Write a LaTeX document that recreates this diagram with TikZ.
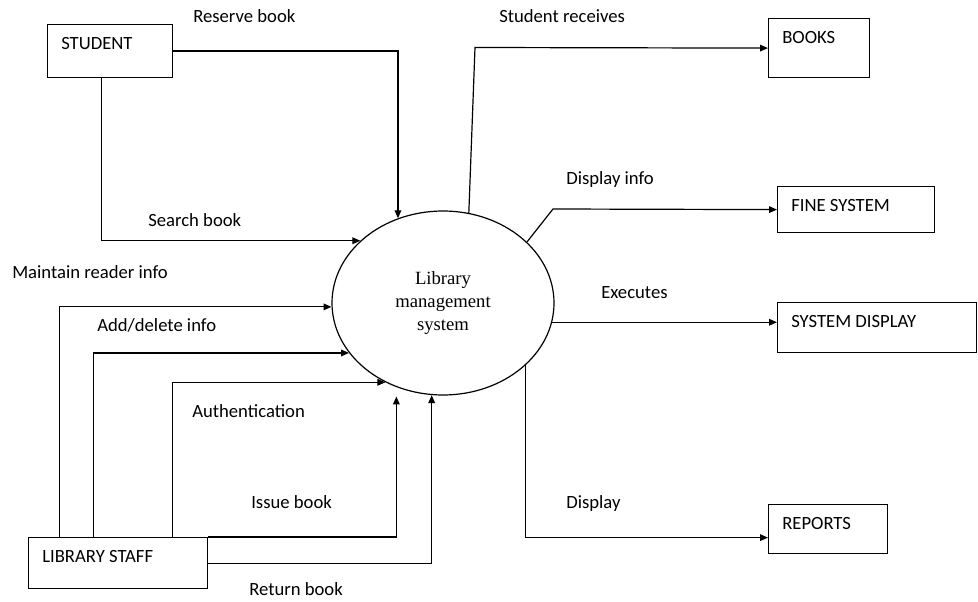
\documentclass[tikz,border=0pt]{standalone}
\usepackage{fontspec}
\setmainfont{Carlito}
\newfontfamily\serifface{Liberation Serif}
\usetikzlibrary{arrows.meta,shapes.geometric}
\begin{document}
\begin{tikzpicture}[x=0.75pt, y=-0.75pt, font=\fontsize{14}{17}\selectfont,
    entity/.style={draw, line width=0.9pt, anchor=north west, inner sep=0pt},
    boxtext/.style={anchor=base west, inner sep=0pt, xshift=10.5pt, yshift=-19.1pt},
    proc/.style={draw, ellipse, line width=0.9pt, inner sep=0pt, minimum width=166.5pt, minimum height=138pt, align=center, font=\serifface\fontsize{14}{17}\selectfont},
    flow/.style={line width=0.9pt, -{Triangle[length=6pt,width=5pt]}},
    lbl/.style={anchor=base west, inner sep=0pt}]
          \useasboundingbox (0, 0) rectangle (978, 602);
          \node[proc] (sys) at (443, 303) {Library\\management\\system};
          \node[entity, minimum width=93.75pt, minimum height=39.75pt, label={[boxtext]north west:STUDENT}] (student) at (47, 24) {};
          \node[entity, minimum width=134.25pt, minimum height=38.25pt, label={[boxtext]north west:LIBRARY STAFF}] (staff) at (28, 537) {};
          \node[entity, minimum width=75.75pt, minimum height=44.25pt, label={[boxtext]north west:BOOKS}] (books) at (768, 18) {};
          \node[entity, minimum width=117.75pt, minimum height=34.5pt, label={[boxtext]north west:FINE SYSTEM}] (fine) at (777, 186) {};
          \node[entity, minimum width=149.25pt, minimum height=37.5pt, label={[boxtext]north west:SYSTEM DISPLAY}] (sysdisp) at (777, 302) {};
          \node[entity, minimum width=89.25pt, minimum height=36.75pt, label={[boxtext]north west:REPORTS}] (reports) at (768, 504) {};
          % student side
          \draw[flow] (student.east) -| (sys.118.7);
          \draw[flow] ([xshift=-6.4pt]student.south) |- (sys.143.7);
          \node[lbl] (reserve) at (193, 23) {Reserve book};
          \node[lbl] (search) at (148, 227) {Search book};
          % library staff side
          \draw[flow] ([xshift=-43.9pt]staff.north) |- (sys.182.6);
          \draw[flow] ([xshift=-18.4pt]staff.north) |- (sys.208.9);
          \draw[flow] ([xshift=40.9pt]staff.north) |- (sys.234.2);
          \draw[flow, shorten >=7pt] (staff.north east) -| (sys.241.3);
          \draw[flow] (staff.east) -| (sys.263.8);
          \node[lbl] (maintain) at (12, 279) {Maintain reader info};
          \node[lbl] (adddel) at (97, 331) {Add/delete info};
          \node[lbl] (auth) at (192, 417) {Authentication};
          \node[lbl] (issue) at (251, 508) {Issue book};
          \node[lbl] (return) at (249, 595) {Return book};
          % outputs
          \coordinate (bend1) at (475, 47.5);
          \coordinate (bend2) at (553, 209);
          \draw[flow] (sys.74.4) -- (bend1) -- (books.west);
          \draw[flow] (sys.36.3) -- (bend2) -- (fine.west);
          \draw[flow] (sys.-10.5) -- (sys.-10.5 -| sysdisp.west);
          \draw[flow] (sys.-37.1) |- ([yshift=-6.4pt]reports.west);
          \node[lbl] (receives) at (499, 23) {Student receives};
          \node[lbl] (dispinfo) at (566, 185) {Display info};
          \node[lbl] (executes) at (601, 299) {Executes};
          \node[lbl] (display) at (566, 508) {Display};
    \end{tikzpicture}
\end{document}
